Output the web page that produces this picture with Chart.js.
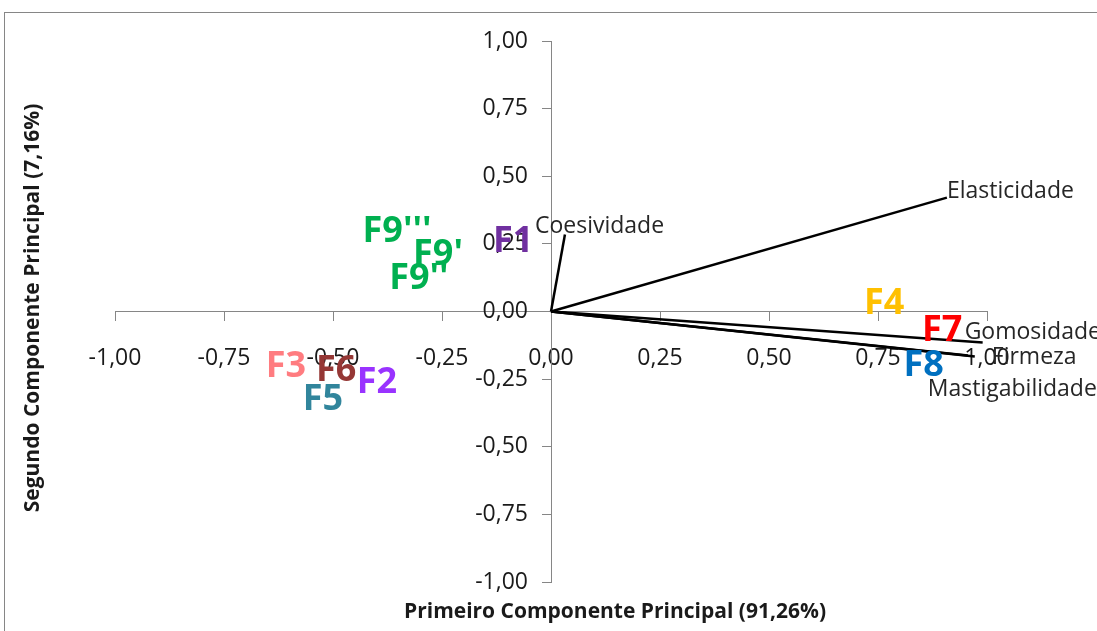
<!DOCTYPE html>
<html>
<head>
<meta charset="utf-8">
<script src="https://cdn.jsdelivr.net/npm/chart.js@4/dist/chart.umd.min.js"></script>
<style>
  html, body { margin: 0; padding: 0; background: #fff; }
  canvas { display: block; }
</style>
</head>
<body>
<canvas id="pcaChart" width="1097" height="631"></canvas>
<script>
// sample scores
const sampleNames = ['F1', 'F2', 'F3', 'F4', 'F5', 'F6', 'F7', 'F8', "F9'", "F9''", "F9'''"];
const samplePC1 = [-0.087, -0.399, -0.608, 0.764, -0.523, -0.493, 0.897, 0.855, -0.259, -0.303, -0.353];
const samplePC2 = [0.259, -0.262, -0.203, 0.030, -0.325, -0.218, -0.070, -0.200, 0.211, 0.122, 0.296];

// variable loadings
const variableNames = ['Coesividade', 'Elasticidade', 'Gomosidade', 'Firmeza', 'Mastigabilidade'];
const loadingPC1 = [0.032, 0.908, 0.990, 0.972, 0.956];
const loadingPC2 = [0.285, 0.421, -0.115, -0.166, -0.163];

// ticks for both axes
const tickValues = [-1, -0.75, -0.5, -0.25, 0, 0.25, 0.5, 0.75, 1];

const xTitle = 'Primeiro Componente Principal (91,26%)';
const yTitle = 'Segundo Componente Principal (7,16%)';

// styling
const sampleColours = ['#7030A0', '#9933FF', '#FF7C80', '#FFC000', '#31859C', '#953735', '#FF0000', '#0070C0', '#00B050', '#00B050', '#00B050'];
const varLabelOffsets = [[-30, -8], [0, -6], [-18, -10], [17, 1], [-40, 34]];
const axisGrey = '#868686';
const FONT = "'Open Sans', 'Noto Sans', sans-serif";

const fmt = v => v.toFixed(2).replace('.', ',');

const datasets = [{
  label: 'Amostras',
  data: samplePC1.map((v, i) => ({ x: v, y: samplePC2[i] })),
  pointRadius: 0,
  pointHoverRadius: 0,
  showLine: false,
}];

variableNames.forEach((name, i) => {
  datasets.push({
    label: name,
    data: [{ x: 0, y: 0 }, { x: loadingPC1[i], y: loadingPC2[i] }],
    showLine: true,
    borderColor: '#000',
    borderWidth: 2.5,
    pointRadius: 0,
    fill: false,
  });
});

const pcaLabels = {
  id: 'pcaLabels',
  beforeDraw(chart) {
    const ctx = chart.ctx;
    ctx.save();
    ctx.strokeStyle = axisGrey;
    ctx.lineWidth = 1;
    ctx.strokeRect(4.5, 12.5, chart.width + 20, chart.height + 20);
    ctx.restore();
  },
  afterDatasetsDraw(chart) {
    const ctx = chart.ctx;
    const xs = chart.scales.x, ys = chart.scales.y;
    ctx.save();

    // vector names
    ctx.font = '23px ' + FONT;
    ctx.fillStyle = '#262626';
    ctx.textAlign = 'left';
    ctx.textBaseline = 'middle';
    variableNames.forEach((name, i) => {
      const px = xs.getPixelForValue(loadingPC1[i]);
      const py = ys.getPixelForValue(loadingPC2[i]);
      ctx.fillText(name, px + varLabelOffsets[i][0], py + varLabelOffsets[i][1]);
    });

    // sample names, centred on the score
    ctx.font = 'bold 36px ' + FONT;
    ctx.textAlign = 'center';
    sampleNames.forEach((name, i) => {
      ctx.fillStyle = sampleColours[i];
      ctx.fillText(name, xs.getPixelForValue(samplePC1[i]), ys.getPixelForValue(samplePC2[i]));
    });
    ctx.restore();
  },
  afterDraw(chart) {
    const ctx = chart.ctx;
    ctx.save();
    ctx.font = 'bold 21px ' + FONT;
    ctx.fillStyle = '#1a1a1a';
    ctx.textAlign = 'center';
    ctx.textBaseline = 'middle';
    ctx.fillText(xTitle, 615, 612);
    ctx.translate(33, 308);
    ctx.rotate(-Math.PI / 2);
    ctx.fillText(yTitle, 0, 0);
    ctx.restore();
  }
};

const axisCommon = {
  type: 'linear',
  min: -1,
  max: 1,
  afterBuildTicks: scale => { scale.ticks = tickValues.map(v => ({ value: v })); },
  grid: { display: true, drawOnChartArea: false, drawTicks: true, color: axisGrey },
  border: { display: true, color: axisGrey, width: 1 },
};

new Chart(document.getElementById('pcaChart'), {
  type: 'scatter',
  data: { datasets },
  options: {
    responsive: false,
    animation: false,
    layout: { padding: { left: 115, right: 110, top: 41, bottom: 49 } },
    plugins: {
      legend: { display: false },
      tooltip: { enabled: false },
    },
    scales: {
      x: {
        ...axisCommon,
        position: { y: 0 },
        afterFit: scale => { scale.height = 0; },
        grid: { ...axisCommon.grid, tickLength: 9 },
        ticks: { padding: 24, color: '#1a1a1a', font: { family: FONT, size: 23 }, maxRotation: 0, autoSkip: false, callback: v => fmt(v) },
      },
      y: {
        ...axisCommon,
        position: { x: 0 },
        afterFit: scale => { scale.width = 0; },
        grid: { ...axisCommon.grid, tickLength: 9 },
        // labels of a centred y axis sit on the axis line, so pad them with spaces
        ticks: { color: '#1a1a1a', font: { family: FONT, size: 23 }, autoSkip: false, callback: v => fmt(v) + '\u2002\u2002' },
      },
    },
  },
  plugins: [pcaLabels],
});
</script>
</body>
</html>
